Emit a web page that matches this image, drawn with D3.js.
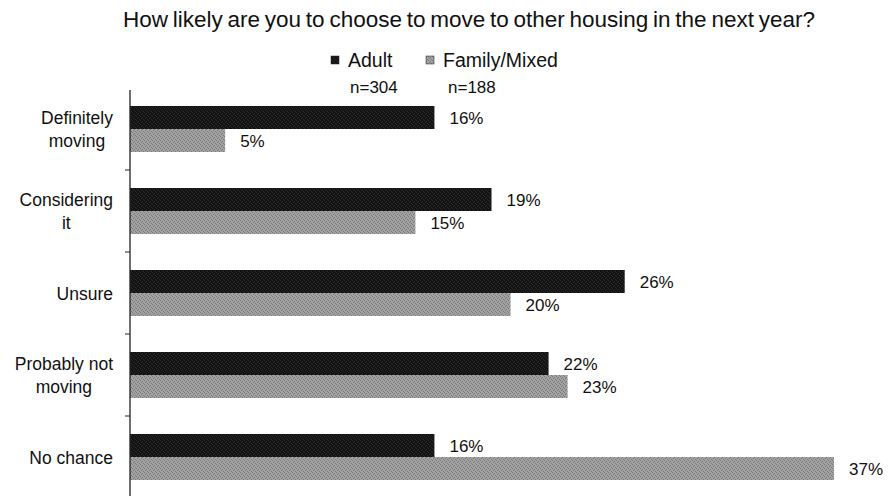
<!DOCTYPE html>
<html>
<head>
<meta charset="utf-8">
<script src="https://cdn.jsdelivr.net/npm/d3@7"></script>
<style>
  html, body { margin: 0; padding: 0; background: #fff; }
  svg text { font-family: "Liberation Sans", Arial, sans-serif; fill: #111; }
</style>
</head>
<body>
<svg id="chart" width="889" height="496"></svg>
<script>
// Survey responses by housing type
const categories = [
  ["Definitely", "moving"],
  ["Considering", "it"],
  ["Unsure"],
  ["Probably not", "moving"],
  ["No chance"]
];
const seriesNames = ["Adult", "Family/Mixed"];
const sampleSizes = ["n=304", "n=188"];
const adultValues = [16, 19, 26, 22, 16];
const familyValues = [5, 15, 20, 23, 37];
const title = "How likely are you to choose to move to other housing in the next year?";

const svg = d3.select("#chart");
const H = 496;
const margin = { left: 130, top: 88 };
const bandH = 82;

// Textured fills for the two series
const defs = svg.append("defs");
function texture(id, base, speck, speckOpacity) {
  const p = defs.append("pattern").attr("id", id)
    .attr("patternUnits", "userSpaceOnUse").attr("width", 4).attr("height", 4);
  p.append("rect").attr("width", 4).attr("height", 4).attr("fill", base);
  [[0,0],[2,1],[1,2],[3,3]].forEach(([x,y]) =>
    p.append("rect").attr("x", x).attr("y", y).attr("width", 1).attr("height", 1)
      .attr("fill", speck).attr("opacity", speckOpacity));
}
texture("texAdult", "#121212", "#6a6a6a", 0.3);
texture("texFamily", "#a2a2a2", "#555555", 0.55);
const fills = ["url(#texAdult)", "url(#texFamily)"];

const x = d3.scaleLinear().domain([0, 37]).range([margin.left, 834]);
const y = d3.scaleBand().domain(d3.range(categories.length))
  .range([margin.top, margin.top + bandH * categories.length]);
const inner = d3.scaleBand().domain([0, 1]).range([0, y.bandwidth()]).paddingOuter(0.783).paddingInner(0);

// Title
svg.append("text").attr("x", 469).attr("y", 27).attr("text-anchor", "middle")
  .attr("font-size", 22.5).attr("word-spacing", -1.5).text(title);

// Legend
const legendX = [331, 426];
const nX = [350, 448];
seriesNames.forEach((name, i) => {
  svg.append("rect").attr("x", legendX[i]).attr("y", 56).attr("width", 8).attr("height", 8)
    .attr("fill", fills[i]).attr("stroke", "#222").attr("stroke-width", 0.5);
  svg.append("text").attr("x", legendX[i] + 17).attr("y", 66.5).attr("font-size", 19.5).text(name);
  svg.append("text").attr("x", nX[i]).attr("y", 93).attr("font-size", 17).text(sampleSizes[i]);
});

// Bars and value labels
const series = [adultValues, familyValues];
series.forEach((vals, s) => {
  svg.append("g").selectAll("rect").data(vals).join("rect")
    .attr("x", x(0))
    .attr("y", (d, i) => y(i) + inner(s))
    .attr("width", d => x(d) - x(0))
    .attr("height", inner.bandwidth())
    .attr("fill", fills[s]);
  svg.append("g").selectAll("text").data(vals).join("text")
    .attr("x", d => x(d) + 15)
    .attr("y", (d, i) => y(i) + inner(s) + inner.bandwidth() / 2 + 6.5)
    .attr("font-size", 17)
    .text(d => d + "%");
});

// Category axis: vertical line with ticks between groups
const axisG = svg.append("g");
axisG.append("line").attr("x1", x(0)).attr("x2", x(0))
  .attr("y1", margin.top + 2).attr("y2", H).attr("stroke", "#222").attr("stroke-width", 1.3);
axisG.selectAll("line.tick").data(d3.range(1, categories.length)).join("line")
  .attr("class", "tick")
  .attr("x1", x(0) - 5).attr("x2", x(0))
  .attr("y1", i => y(i)).attr("y2", i => y(i))
  .attr("stroke", "#222").attr("stroke-width", 1);

// Category labels: block right-aligned, lines centred within the block
const labelRight = 113, lineH = 22.5, fs = 17.5;
categories.forEach((lines, i) => {
  const g = svg.append("g");
  const texts = lines.map(l => g.append("text").attr("font-size", fs).attr("text-anchor", "middle").text(l));
  const widths = texts.map(t => t.node().getComputedTextLength());
  const blockW = d3.max(widths);
  const cx = labelRight - blockW / 2;
  const cy = y(i) + y.bandwidth() / 2;
  const top = cy - (lines.length - 1) * lineH / 2;
  texts.forEach((t, k) => t.attr("x", cx).attr("y", top + k * lineH + 6.5));
});
</script>
</body>
</html>
